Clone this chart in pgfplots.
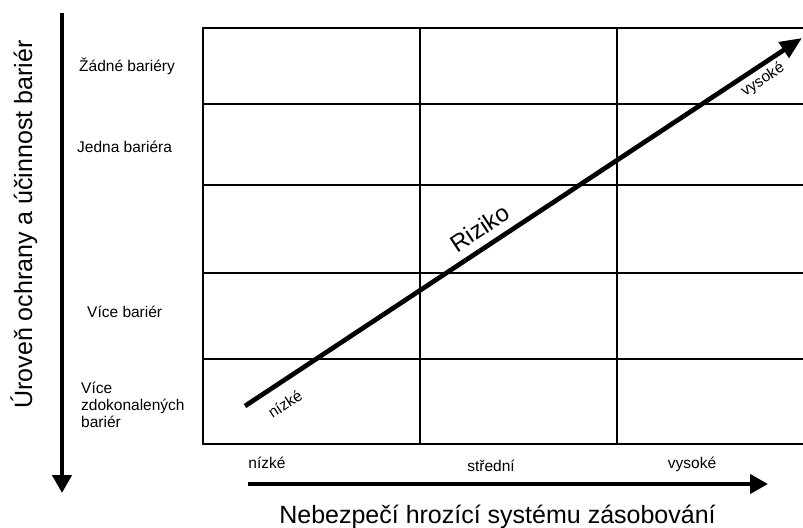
\documentclass[border=0pt]{standalone}
\usepackage{pgfplots}
\pgfplotsset{compat=1.18}
\usetikzlibrary{arrows.meta}
\usepackage{fontspec}
\setmainfont{Liberation Sans}
\newcommand{\fs}[1]{\fontsize{#1bp}{#1bp}\selectfont}
\begin{document}
\begin{tikzpicture}
\begin{axis}[
  scale only axis, width=803bp, height=528bp,
  xmin=0, xmax=803, ymin=0, ymax=528, y dir=reverse,
  hide axis, clip=false,
]
% inner grid lines
\addplot[black, line width=2.3bp] coordinates {(420,28) (420,444)};
\addplot[black, line width=2.3bp] coordinates {(617,28) (617,444)};
\addplot[black, line width=2.3bp] coordinates {(203,104) (808,104)};
\addplot[black, line width=2.3bp] coordinates {(203,185) (808,185)};
\addplot[black, line width=2.3bp] coordinates {(203,273) (808,273)};
\addplot[black, line width=2.3bp] coordinates {(203,359) (808,359)};
% frame
\addplot[black, line width=2.7bp, line join=miter] coordinates {(808,28) (203,28) (203,444) (808,444)};
% risk arrow
\addplot[black, line width=4.7bp, -{Triangle[length=22bp,width=18bp]}] coordinates {(245,406) (802,38)};
% left arrow
\addplot[black, line width=4.7bp, -{Triangle[length=18bp,width=19bp]}] coordinates {(62,13) (62,493)};
% bottom arrow
\addplot[black, line width=4.2bp, -{Triangle[length=18bp,width=19bp]}] coordinates {(248,484) (768,484)};

% labels along the arrow
\node[rotate=33.4, font=\fs{24}] at (axis cs:480,228) {Riziko};
\node[rotate=33.4, font=\fs{15.5}] at (axis cs:285,404) {nízké};
\node[rotate=33.4, font=\fs{15.5}] at (axis cs:763,80) {vysoké};

% left labels
\node[anchor=base west, font=\fs{15.5}, inner sep=0pt] at (axis cs:79,72) {Žádné bariéry};
\node[anchor=base west, font=\fs{15.5}, inner sep=0pt] at (axis cs:77,152) {Jedna bariéra};
\node[anchor=base west, font=\fs{15.5}, inner sep=0pt] at (axis cs:87,317) {Více bariér};
\node[anchor=base west, font=\fs{15.5}, inner sep=0pt] at (axis cs:81,393) {Více};
\node[anchor=base west, font=\fs{15.5}, inner sep=0pt] at (axis cs:81,410) {zdokonalených};
\node[anchor=base west, font=\fs{15.5}, inner sep=0pt] at (axis cs:81,427) {bariér};

% bottom labels
\node[anchor=base, font=\fs{15.5}, inner sep=0pt] at (axis cs:267,468) {nízké};
\node[anchor=base, font=\fs{15.5}, inner sep=0pt] at (axis cs:491,471) {střední};
\node[anchor=base, font=\fs{15.5}, inner sep=0pt] at (axis cs:692,468) {vysoké};

% titles
\node[anchor=base, font=\fs{25}, inner sep=0pt] at (axis cs:497.5,523) {Nebezpečí hrozící systému zásobování};
\node[anchor=base, rotate=90, font=\fs{25}, inner sep=0pt] at (axis cs:32,224.5) {Úroveň ochrany a účinnost bariér};
\end{axis}
\pgfresetboundingbox
\path (current axis.south west) rectangle (current axis.north east);
\end{tikzpicture}
\end{document}
